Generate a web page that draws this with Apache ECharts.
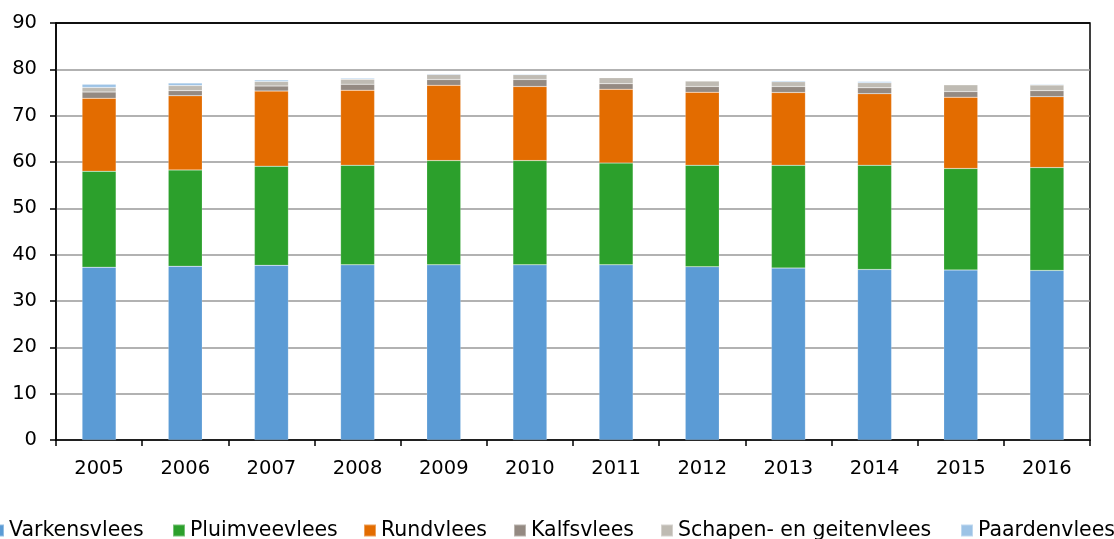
<!DOCTYPE html>
<html>
<head>
<meta charset="utf-8">
<script src="https://cdn.jsdelivr.net/npm/echarts@6/dist/echarts.min.js"></script>
<style>
html,body{margin:0;padding:0;background:#fff;}
#c{width:1114px;height:539px;}
</style>
</head>
<body>
<div id="c"></div>
<script>
const years = ['2005','2006','2007','2008','2009','2010','2011','2012','2013','2014','2015','2016'];
const varkensvlees = [37.3, 37.5, 37.7, 37.8, 37.8, 37.8, 37.8, 37.4, 37.1, 36.8, 36.7, 36.6];
const pluimveevlees = [20.7, 20.8, 21.4, 21.5, 22.5, 22.5, 22.0, 21.9, 22.2, 22.5, 21.9, 22.2];
const rundvlees = [15.75, 16.0, 16.2, 16.2, 16.25, 16.0, 15.9, 15.75, 15.7, 15.45, 15.4, 15.3];
const kalfsvlees = [1.35, 1.1, 1.1, 1.3, 1.25, 1.5, 1.2, 1.25, 1.3, 1.25, 1.2, 1.3];
const schapenGeitenvlees = [1.0, 1.1, 1.0, 1.05, 1.1, 1.05, 1.3, 1.2, 1.0, 1.1, 1.45, 1.2];
const paardenvlees = [0.7, 0.55, 0.3, 0.25, 0.15, 0.15, 0.1, 0.05, 0.25, 0.3, 0.05, 0.2];
const yTicks = [0, 10, 20, 30, 40, 50, 60, 70, 80, 90];

const seriesDefs = [
  {name:'Varkensvlees', data:varkensvlees, color:'#5B9BD5'},
  {name:'Pluimveevlees', data:pluimveevlees, color:'#2CA02C'},
  {name:'Rundvlees', data:rundvlees, color:'#E36C00'},
  {name:'Kalfsvlees', data:kalfsvlees, color:'#948A82'},
  {name:'Schapen- en geitenvlees', data:schapenGeitenvlees, color:'#BFBBB3'},
  {name:'Paardenvlees', data:paardenvlees, color:'#9DC3E6'}
];
const legendLeft = [-9, 172, 363, 513, 660, 960];
const font = 'DejaVu Sans, Verdana, sans-serif';

const chart = echarts.init(document.getElementById('c'), null, {renderer:'canvas'});
chart.setOption({
  animation:false,
  textStyle:{fontFamily:font},
  grid:{left:56, right:24, top:23, bottom:99, show:true, borderColor:'#000', borderWidth:1.5, backgroundColor:'transparent'},
  legend: seriesDefs.map((s,i)=>({
    data:[s.name], left:legendLeft[i], top:520, itemWidth:12, itemHeight:12, icon:'rect',
    textStyle:{fontFamily:font, fontSize:20.5, color:'#000', padding:[0,0,0,0]}, padding:0
  })),
  xAxis:{
    type:'category', data:years,
    axisLine:{lineStyle:{color:'#000', width:1.5}},
    axisTick:{show:true, alignWithLabel:false, length:6, lineStyle:{color:'#000', width:1.5}},
    axisLabel:{fontFamily:font, fontSize:19.5, color:'#000', margin:19}
  },
  yAxis:{
    type:'value', min:0, max:90, interval:10,
    axisLine:{show:true, lineStyle:{color:'#000', width:1.5}},
    axisTick:{show:true, length:6, lineStyle:{color:'#000', width:1.5}},
    axisLabel:{fontFamily:font, fontSize:19.5, color:'#000', margin:19,
      formatter:v=>yTicks.includes(v)?String(v):''},
    splitLine:{lineStyle:{color:['#999','#999','#999','#999','#999','#999','#999','#999','#999','#000'], width:1.5}}
  },
  series: seriesDefs.map(s=>({
    name:s.name, type:'bar', stack:'total', data:s.data, barWidth:34,
    itemStyle:{color:s.color, borderColor:'rgba(255,255,255,0.35)', borderWidth:0.5}
  }))
});
</script>
</body>
</html>
